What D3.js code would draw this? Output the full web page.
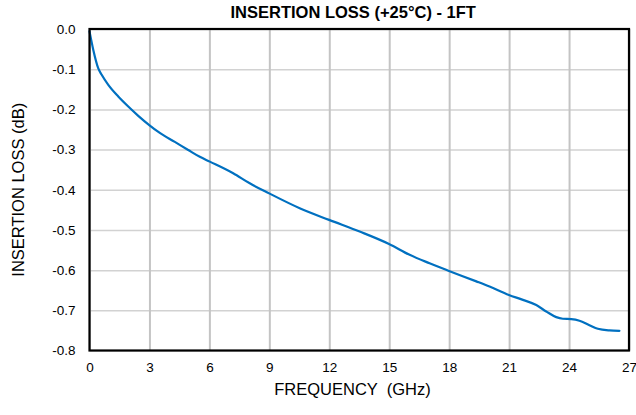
<!DOCTYPE html>
<html>
<head>
<meta charset="utf-8">
<script src="https://cdn.jsdelivr.net/npm/d3@7"></script>
<style>
  html, body { margin: 0; padding: 0; background: #fff; }
  svg { display: block; }
  text { font-family: "Liberation Sans", Arial, sans-serif; fill: #000; }
</style>
</head>
<body>
<svg id="chart" width="636" height="415"></svg>
<script>
// ---- data ----
const freqGHz = [0, 0.19, 0.44, 0.61, 0.94, 1.44, 1.94, 2.44, 2.99, 3.5, 4.27, 4.94, 5.52, 6.02, 7.19, 8.02, 8.99, 10.52, 11.99, 13.52, 14.99, 16.02, 17.02, 17.99, 19.36, 20.02, 20.99, 21.69, 22.36, 22.86, 23.36, 23.69, 24.11, 24.52, 25.02, 25.44, 26.02, 26.52];
const lossDB = [-0.006, -0.052, -0.098, -0.114, -0.139, -0.168, -0.193, -0.216, -0.239, -0.258, -0.281, -0.301, -0.318, -0.330, -0.359, -0.384, -0.409, -0.446, -0.475, -0.504, -0.535, -0.562, -0.583, -0.602, -0.628, -0.641, -0.662, -0.674, -0.687, -0.703, -0.717, -0.721, -0.722, -0.726, -0.737, -0.746, -0.750, -0.751];
const xTicks = [0, 3, 6, 9, 12, 15, 18, 21, 24, 27];
const yTicks = [0, -0.1, -0.2, -0.3, -0.4, -0.5, -0.6, -0.7, -0.8];
const titleText = "INSERTION LOSS (+25°C) - 1FT";
const xLabel = "FREQUENCY  (GHz)";
const yLabel = "INSERTION LOSS (dB)";

// ---- layout ----
const svg = d3.select("#chart");
const pL = 89.5, pR = 629, pT = 29, pB = 350.5;

const x = d3.scaleLinear().domain([0, 27]).range([pL, pR]);
const y = d3.scaleLinear().domain([-0.8, 0]).range([pB, pT]);

// horizontal grid
svg.append("g")
  .attr("transform", `translate(${pL},0)`)
  .call(d3.axisLeft(y).tickValues(yTicks).tickSize(-(pR - pL)).tickFormat(""))
  .call(g => g.select(".domain").remove())
  .call(g => g.selectAll("line").attr("stroke", "#d2d2d2").attr("stroke-width", 1.5));

// vertical grid
svg.append("g")
  .attr("transform", `translate(0,${pB})`)
  .call(d3.axisBottom(x).tickValues(xTicks).tickSize(-(pB - pT)).tickFormat(""))
  .call(g => g.select(".domain").remove())
  .call(g => g.selectAll("line").attr("stroke", "#c4c4c4").attr("stroke-width", 2));

// curve
const line = d3.line()
  .x((d, i) => x(freqGHz[i]))
  .y((d, i) => y(lossDB[i]))
  .curve(d3.curveMonotoneX);

svg.append("path")
  .datum(lossDB)
  .attr("d", line)
  .attr("fill", "none")
  .attr("stroke", "#0070c0")
  .attr("stroke-width", 2.2)
  .attr("stroke-linejoin", "round")
  .attr("stroke-linecap", "round");

// frame
svg.append("rect")
  .attr("x", pL).attr("y", pT)
  .attr("width", pR - pL).attr("height", pB - pT)
  .attr("fill", "none").attr("stroke", "#000").attr("stroke-width", 2.2);

// y tick labels
svg.append("g")
  .attr("transform", `translate(${pL},0)`)
  .call(d3.axisLeft(y).tickValues(yTicks).tickSize(0).tickPadding(14)
    .tickFormat(d => d.toFixed(1)))
  .call(g => g.select(".domain").remove())
  .call(g => g.selectAll("text")
    .style("font-family", "'Liberation Sans', Arial, sans-serif")
    .attr("font-size", "13.5px").attr("fill", "#000"));

// x tick labels
svg.append("g")
  .attr("transform", `translate(0,${pB})`)
  .call(d3.axisBottom(x).tickValues(xTicks).tickSize(0).tickPadding(12)
    .tickFormat(d3.format("d")))
  .call(g => g.select(".domain").remove())
  .call(g => g.selectAll("text")
    .style("font-family", "'Liberation Sans', Arial, sans-serif")
    .attr("font-size", "13.5px").attr("fill", "#000"));

// title
svg.append("text")
  .attr("x", (pL + pR) / 2 - 6)
  .attr("y", 18.3)
  .attr("text-anchor", "middle")
  .attr("font-weight", "bold")
  .attr("font-size", "16.5px")
  .text(titleText);

// x label
svg.append("text")
  .attr("x", 352.5)
  .attr("y", 395)
  .attr("text-anchor", "middle")
  .attr("font-size", "16.5px")
  .style("white-space", "pre")
  .text(xLabel);

// y label
svg.append("text")
  .attr("transform", `translate(23.5,${(pT + pB) / 2}) rotate(-90)`)
  .attr("text-anchor", "middle")
  .attr("font-size", "16.5px")
  .text(yLabel);
</script>
</body>
</html>
